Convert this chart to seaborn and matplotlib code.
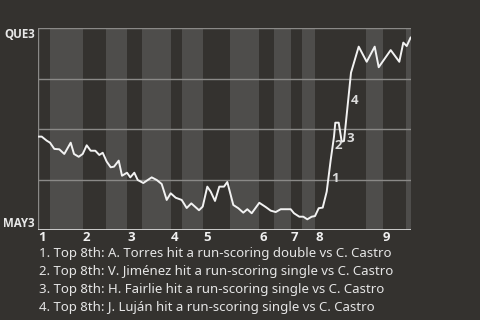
import matplotlib
matplotlib.use("Agg")
import matplotlib.pyplot as plt
import seaborn as sns
import pandas as pd

# ---- data ----
game_x = [0, 3.4, 8.4, 11.7, 16.0, 21.0, 26.0, 32.4, 35.7, 40.4, 44.4, 48.4, 52.4, 57.0,
          61.0, 64.4, 68.4, 72.4, 75.7, 80.4, 83.7, 88.7, 92.0, 96.0, 99.4, 105.0, 113.4,
          118.4, 123.4, 128.4, 132.4, 137.4, 143.4, 148.4, 153.0, 160.7, 164.4, 169.0,
          172.4, 176.7, 181.0, 185.7, 189.0, 195.0, 200.0, 205.0, 209.0, 213.4, 221.0,
          227.7, 232.4, 237.4, 242.4, 247.0, 252.4, 255.7, 261.0, 265.0, 269.0, 273.4,
          276.7, 280.4, 284.4, 288.4, 292.4, 295.7, 297.0, 300.4, 303.4, 305.7, 312.7,
          320.4, 328.4, 336.4, 340.4, 352.4, 361.0, 365.0, 368.4, 372.4]
win_prob = [0.463, 0.463, 0.443, 0.433, 0.402, 0.400, 0.377, 0.433, 0.377, 0.363, 0.377,
            0.420, 0.393, 0.393, 0.372, 0.383, 0.339, 0.311, 0.314, 0.344, 0.269, 0.284,
            0.261, 0.284, 0.248, 0.233, 0.261, 0.248, 0.228, 0.149, 0.182, 0.160, 0.149,
            0.109, 0.132, 0.098, 0.116, 0.215, 0.190, 0.144, 0.215, 0.215, 0.238, 0.124,
            0.108, 0.086, 0.103, 0.083, 0.135, 0.113, 0.096, 0.089, 0.103, 0.103, 0.103,
            0.083, 0.066, 0.066, 0.053, 0.066, 0.069, 0.108, 0.111, 0.190, 0.347, 0.463,
            0.532, 0.532, 0.438, 0.441, 0.780, 0.909, 0.834, 0.909, 0.807, 0.892, 0.834,
            0.929, 0.912, 0.955]
half_inning_starts = [0, 11.7, 44.4, 67.7, 88.7, 103.7, 132.7, 143.7, 164.7, 191.7,
                      220.7, 235.7, 252.7, 263.7, 276.7, 327.7, 344.7, 367.7]
game_end = 372.4
inning_labels = ["1", "2", "3", "4", "5", "6", "7", "8", "9"]
team_labels = ["MAY3", "QUE3"]
event_labels = ["1", "2", "3", "4"]
event_x = [296.4, 300.4, 311.7, 316.4]
event_y = [0.253, 0.420, 0.455, 0.640]
captions = [
    "1. Top 8th: A. Torres hit a run-scoring double vs C. Castro",
    "2. Top 8th: V. Jiménez hit a run-scoring single vs C. Castro",
    "3. Top 8th: H. Fairlie hit a run-scoring single vs C. Castro",
    "4. Top 8th: J. Luján hit a run-scoring single vs C. Castro",
]

BG = "#34322f"
LIGHT = "#4e4d4b"
GRID = "#8a8987"
TXT = "#e6e6e6"
BOLD_FONT = ["Open Sans", "DejaVu Sans"]

sns.set_theme(style="dark")
plt.rcParams["font.family"] = ["Noto Sans", "DejaVu Sans"]

fig = plt.figure(figsize=(4.8, 3.2), dpi=100, facecolor=BG)
ax = fig.add_axes([38.3 / 480, 90 / 320, 372.4 / 480, 201.7 / 320])
ax.set_facecolor(BG)

ends = half_inning_starts[1:] + [game_end]
for i, (a, b) in enumerate(zip(half_inning_starts, ends)):
    if i % 2 == 1:
        ax.axvspan(a, b, color=LIGHT, lw=0, zorder=0)

for y in [0.25, 0.5, 0.75, 1.0]:
    ax.axhline(y, color=GRID, lw=1, zorder=1)
ax.axhline(0, color="#d6d6d6", lw=1.3, zorder=2)
ax.axvline(0, color=GRID, lw=1, zorder=1)

df = pd.DataFrame({"x": game_x, "wp": win_prob})
sns.lineplot(data=df, x="x", y="wp", ax=ax, color="#f2f2f2", lw=1.4,
             estimator=None, zorder=3)

for lab, x, y in zip(event_labels, event_x, event_y):
    ax.text(x, y, lab, color="#dcdcdc", fontsize=9.5, fontweight="bold",
            family=BOLD_FONT, ha="center", va="center", zorder=4)

ax.set_xlim(0, game_end)
ax.set_ylim(0, 1)
for s in ax.spines.values():
    s.set_visible(False)
ax.grid(False)

ax.set_xticks(half_inning_starts[::2])
ax.set_xticklabels(inning_labels, ha="left", fontweight="bold", fontsize=9.5,
                   color="#f0f0f0", family=BOLD_FONT)
ax.tick_params(axis="x", length=0, pad=0.8)
ax.set_yticks([0, 1])
ax.set_yticklabels(team_labels, fontweight="bold", fontsize=8.3, color="#e8e8e8",
                   family=BOLD_FONT)
ax.get_yticklabels()[0].set_va("bottom")
ax.get_yticklabels()[1].set_va("top")
ax.tick_params(axis="y", length=0, pad=2.5)
ax.set_xlabel("")
ax.set_ylabel("")

for i, c in enumerate(captions):
    fig.text(39.3 / 480, 1 - (254 + 18 * i) / 320, c, color=TXT, fontsize=9.5,
             ha="left", va="center")

fig.savefig("out.png", dpi=100, facecolor=BG)
